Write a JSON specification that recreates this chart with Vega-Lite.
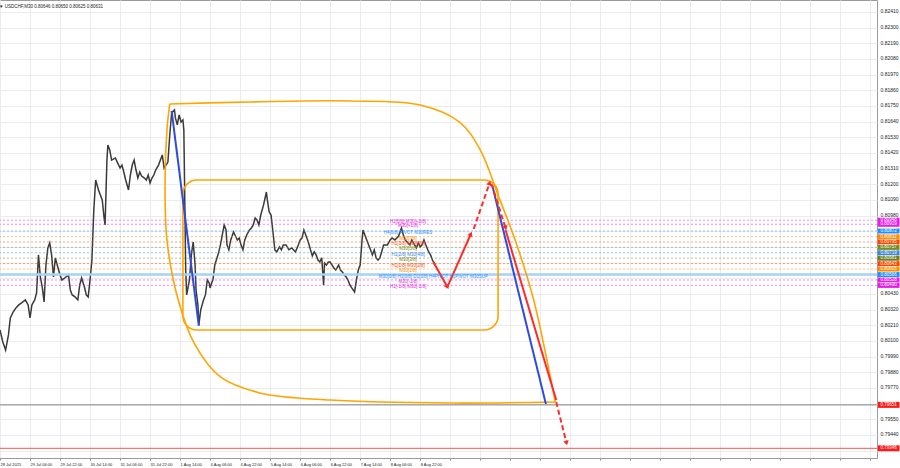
{
  "$schema": "https://vega.github.io/schema/vega-lite/v6.json",
  "width": 877,
  "height": 458,
  "autosize": {"type": "none"},
  "padding": {"left": 0, "top": 0, "right": 23, "bottom": 10},
  "background": "white",
  "config": {"view": {"stroke": "#9a9a9a", "strokeWidth": 1}, "font": "Liberation Sans", "axis": {"labelOverlap": false, "labelFlush": false, "labelBound": false}},
  "title": {"text": "▼ USDCHF,M30  0.80646 0.80650 0.80625 0.80631", "anchor": "start", "fontSize": 4.5, "fontWeight": "normal", "color": "#222222", "offset": -8, "dx": 2},
  "datasets": {
    "price": [
      {"b":0,"p":0.80177},{"b":3,"p":0.80093},{"b":6,"p":0.80036},{"b":9,"p":0.80142},{"b":11,"p":0.80261},{"b":14,"p":0.80303},{"b":17,"p":0.80332},{"b":20,"p":0.80353},{"b":23,"p":0.80367},{"b":27,"p":0.80388},{"b":30,"p":0.80353},{"b":32,"p":0.80261},{"b":34,"p":0.80353},{"b":37,"p":0.80388},{"b":39,"p":0.80437},{"b":41,"p":0.80704},{"b":43,"p":0.80549},{"b":45,"p":0.80479},{"b":47,"p":0.80374},{"b":49,"p":0.80633},{"b":51,"p":0.80753},{"b":53,"p":0.80788},{"b":55,"p":0.80704},{"b":57,"p":0.80549},{"b":59,"p":0.80683},{"b":61,"p":0.80633},{"b":64,"p":0.80563},{"b":66,"p":0.80528},{"b":69,"p":0.80542},{"b":73,"p":0.80563},{"b":75,"p":0.80458},{"b":77,"p":0.80423},{"b":80,"p":0.80409},{"b":83,"p":0.80388},{"b":85,"p":0.80493},{"b":87,"p":0.80542},{"b":90,"p":0.80479},{"b":92,"p":0.80423},{"b":94,"p":0.80409},{"b":96,"p":0.80528},{"b":98,"p":0.80668},{"b":100,"p":0.81019},{"b":102,"p":0.8123},{"b":105,"p":0.8116},{"b":107,"p":0.81125},{"b":109,"p":0.8109},{"b":111,"p":0.80963},{"b":112,"p":0.80914},{"b":114,"p":0.8137},{"b":115,"p":0.81476},{"b":117,"p":0.81441},{"b":119,"p":0.8137},{"b":123,"p":0.81385},{"b":125,"p":0.81356},{"b":128,"p":0.81314},{"b":130,"p":0.81335},{"b":132,"p":0.81286},{"b":134,"p":0.8123},{"b":137,"p":0.8116},{"b":139,"p":0.81265},{"b":141,"p":0.81335},{"b":143,"p":0.8137},{"b":145,"p":0.813},{"b":147,"p":0.81244},{"b":149,"p":0.81286},{"b":151,"p":0.81258},{"b":154,"p":0.81244},{"b":156,"p":0.8123},{"b":158,"p":0.81265},{"b":160,"p":0.81209},{"b":162,"p":0.81244},{"b":164,"p":0.81265},{"b":166,"p":0.813},{"b":169,"p":0.81335},{"b":171,"p":0.8137},{"b":173,"p":0.81406},{"b":175,"p":0.81314},{"b":177,"p":0.81335},{"b":179,"p":0.81356},{"b":181,"p":0.81546},{"b":183,"p":0.81701},{"b":186,"p":0.81722},{"b":187,"p":0.81666},{"b":189,"p":0.81617},{"b":191,"p":0.81687},{"b":193,"p":0.81638},{"b":195,"p":0.81652},{"b":196,"p":0.81581},{"b":197,"p":0.8109},{"b":198,"p":0.80598},{"b":199,"p":0.80423},{"b":202,"p":0.80528},{"b":204,"p":0.80704},{"b":206,"p":0.80795},{"b":208,"p":0.80633},{"b":209,"p":0.80458},{"b":211,"p":0.80353},{"b":212,"p":0.80212},{"b":214,"p":0.80318},{"b":217,"p":0.80388},{"b":219,"p":0.80423},{"b":221,"p":0.80528},{"b":223,"p":0.80507},{"b":224,"p":0.80472},{"b":226,"p":0.80514},{"b":227,"p":0.80528},{"b":229,"p":0.80633},{"b":233,"p":0.80718},{"b":235,"p":0.80774},{"b":237,"p":0.80844},{"b":239,"p":0.80914},{"b":241,"p":0.80879},{"b":242,"p":0.80774},{"b":244,"p":0.8074},{"b":246,"p":0.80809},{"b":249,"p":0.80865},{"b":251,"p":0.80837},{"b":253,"p":0.80809},{"b":255,"p":0.80823},{"b":257,"p":0.80774},{"b":259,"p":0.8074},{"b":261,"p":0.80809},{"b":263,"p":0.80844},{"b":266,"p":0.80879},{"b":268,"p":0.80893},{"b":270,"p":0.80914},{"b":272,"p":0.80963},{"b":274,"p":0.80949},{"b":276,"p":0.80914},{"b":278,"p":0.80984},{"b":281,"p":0.81055},{"b":284,"p":0.81146},{"b":285,"p":0.8109},{"b":287,"p":0.81005},{"b":289,"p":0.80984},{"b":291,"p":0.80865},{"b":293,"p":0.8074},{"b":295,"p":0.80725},{"b":298,"p":0.8076},{"b":300,"p":0.8074},{"b":302,"p":0.80774},{"b":305,"p":0.80774},{"b":308,"p":0.8074},{"b":311,"p":0.80753},{"b":315,"p":0.80725},{"b":318,"p":0.80774},{"b":320,"p":0.80809},{"b":322,"p":0.80823},{"b":324,"p":0.80879},{"b":326,"p":0.80844},{"b":329,"p":0.80788},{"b":331,"p":0.8074},{"b":333,"p":0.80697},{"b":335,"p":0.80725},{"b":337,"p":0.80704},{"b":339,"p":0.80668},{"b":341,"p":0.80654},{"b":343,"p":0.80683},{"b":345,"p":0.80493},{"b":346,"p":0.80647},{"b":348,"p":0.80633},{"b":350,"p":0.80654},{"b":352,"p":0.80654},{"b":354,"p":0.80633},{"b":356,"p":0.80612},{"b":358,"p":0.80598},{"b":361,"p":0.80633},{"b":363,"p":0.80598},{"b":365,"p":0.80584},{"b":367,"p":0.80563},{"b":369,"p":0.80549},{"b":371,"p":0.80528},{"b":373,"p":0.80493},{"b":375,"p":0.80472},{"b":378,"p":0.80444},{"b":380,"p":0.80528},{"b":382,"p":0.80598},{"b":384,"p":0.80633},{"b":386,"p":0.80809},{"b":387,"p":0.80879},{"b":389,"p":0.80844},{"b":393,"p":0.80774},{"b":395,"p":0.8074},{"b":397,"p":0.80704},{"b":399,"p":0.8074},{"b":401,"p":0.80683},{"b":403,"p":0.80668},{"b":405,"p":0.80683},{"b":409,"p":0.80774},{"b":413,"p":0.80774},{"b":416,"p":0.80809},{"b":418,"p":0.80823},{"b":421,"p":0.80809},{"b":425,"p":0.80837},{"b":428,"p":0.80893},{"b":430,"p":0.80844},{"b":432,"p":0.80809},{"b":435,"p":0.80788},{"b":437,"p":0.80774},{"b":439,"p":0.80809},{"b":442,"p":0.80774},{"b":444,"p":0.80753},{"b":446,"p":0.80788},{"b":448,"p":0.8076},{"b":450,"p":0.80774},{"b":452,"p":0.80809},{"b":454,"p":0.80774},{"b":457,"p":0.80725},{"b":459,"p":0.80704},{"b":461,"p":0.80668},{"b":464,"p":0.80633}
    ],
    "levels": [
      {"p":0.80948,"lvl":"+2/8","lab":"H1[5/8] M30[+2/8]","lb":435},
      {"p":0.80919,"lvl":"+1/8","lab":"M30[+1/8]","lb":435},
      {"p":0.80872,"lvl":"8/8","lab":"H4[6/8] PIVOT M30RES","lb":435},
      {"p":0.80832,"lvl":"7/8","lab":"M30[7/8]","lb":435},
      {"p":0.80795,"lvl":"6/8","lab":"H1[3/8] M30[6/8]","lb":435},
      {"p":0.80757,"lvl":"5/8","lab":"M30[5/8]","lb":435},
      {"p":0.80719,"lvl":"4/8","lab":"H1[2/8] M30[4/8]","lb":435},
      {"p":0.80681,"lvl":"3/8","lab":"M30[3/8]","lb":435},
      {"p":0.80643,"lvl":"2/8","lab":"H1[1/8] M30[2/8]","lb":435},
      {"p":0.80605,"lvl":"1/8","lab":"M30[1/8]","lb":435},
      {"p":0.80566,"lvl":"0/8","lab":"M30[0/8] H1[0/8] D1[3/8] H4PIVOT H1PIVOT M30SUP","lb":462},
      {"p":0.80528,"lvl":"-1/8","lab":"M30[-1/8]","lb":435},
      {"p":0.8049,"lvl":"-2/8","lab":"H1[-1/8] M30[-2/8]","lb":435}
    ],
    "shape": [
      {"part":"A","i":0,"b":181,"p":0.81764},{"part":"A","i":1,"b":267,"p":0.81778},{"part":"A","i":2,"b":373,"p":0.81785},{"part":"A","i":3,"b":448,"p":0.81757},{"part":"A","i":4,"b":490,"p":0.81637},{"part":"A","i":5,"b":512,"p":0.81441},{"part":"A","i":6,"b":531,"p":0.81125},{"part":"A","i":7,"b":551,"p":0.80774},{"part":"A","i":8,"b":569,"p":0.80388},{"part":"A","i":9,"b":582,"p":0.80001},{"part":"A","i":10,"b":592,"p":0.79671},
      {"part":"B","i":11,"b":592,"p":0.79671},{"part":"B","i":12,"b":480,"p":0.79664},{"part":"B","i":13,"b":352,"p":0.79685},{"part":"B","i":14,"b":277,"p":0.79735},{"part":"B","i":15,"b":235,"p":0.79847},{"part":"B","i":16,"b":208,"p":0.80072},{"part":"B","i":17,"b":190,"p":0.80388},{"part":"B","i":18,"b":178,"p":0.80809},{"part":"B","i":19,"b":176,"p":0.8123},{"part":"B","i":20,"b":178,"p":0.81581},{"part":"B","i":21,"b":181,"p":0.81764}
    ],
    "box": [{"b1":195,"b2":531,"p1":0.8123,"p2":0.80177}],
    "segs": [
      {"seg":"B1","kind":"blue","i":0,"b":183,"p":0.81715},{"seg":"B1","kind":"blue","i":1,"b":212,"p":0.80205},
      {"seg":"B2","kind":"blue","i":0,"b":525,"p":0.81188},{"seg":"B2","kind":"blue","i":1,"b":582,"p":0.79657},
      {"seg":"Ra","kind":"solid","i":0,"b":462,"p":0.80654},{"seg":"Ra","kind":"solid","i":1,"b":477,"p":0.80479},
      {"seg":"Rb","kind":"solid","i":0,"b":477,"p":0.80479},{"seg":"Rb","kind":"solid","i":1,"b":502,"p":0.80851},
      {"seg":"Rc","kind":"dashed","i":0,"b":505,"p":0.80886},{"seg":"Rc","kind":"dashed","i":1,"b":522,"p":0.81209},
      {"seg":"Rd","kind":"dashed","i":0,"b":524,"p":0.81202},{"seg":"Rd","kind":"dashed","i":1,"b":539,"p":0.80893},
      {"seg":"Re","kind":"solid","i":0,"b":539,"p":0.80879},{"seg":"Re","kind":"solid","i":1,"b":593,"p":0.79685},
      {"seg":"Rf","kind":"dashed","i":0,"b":593,"p":0.79671},{"seg":"Rf","kind":"dashed","i":1,"b":604,"p":0.79383}
    ],
    "heads": [
      {"b":477,"p":0.80479,"dir":151},{"b":502,"p":0.80851,"dir":24},{"b":522,"p":0.81209,"dir":19},{"b":539,"p":0.80893,"dir":162},{"b":604,"p":0.79383,"dir":166}
    ],
    "targets": [{"p":0.79651},{"p":0.79346}]
  },
  "layer": [
    {
      "data": {"name": "price"},
      "mark": {"type": "line", "color": "#3a3a3a", "strokeWidth": 1.5, "strokeJoin": "miter"},
      "encoding": {
        "x": {"field": "b", "type": "quantitative", "scale": {"domain": [0, 935], "nice": false, "zero": false},
          "axis": {"orient": "bottom", "tickCount": 100, "values": [0,32,64,96,128,160,192,224,256,288,320,352,384,416,448,480,512,544,576,608,640,672,704,736,768,800,832,864,896,928],
            "labelExpr": "datum.value <= 448 ? ['28 Jul 2025','29 Jul 06:00','29 Jul 22:00','30 Jul 14:00','31 Jul 06:00','31 Jul 22:00','1 Aug 14:00','4 Aug 06:00','4 Aug 22:00','5 Aug 14:00','6 Aug 06:00','6 Aug 22:00','7 Aug 14:00','8 Aug 06:00','8 Aug 22:00'][datum.value/32] : ''",
            "labelAlign": "left", "labelDx": 1, "labelFontSize": 4, "labelPadding": 2, "labelColor": "#222222", "labelOverlap": false, "labelFlush": false,
            "tickSize": 2, "tickColor": "#888888", "domain": false, "grid": true, "gridColor": "#ececec", "title": null}},
        "y": {"field": "p", "type": "quantitative", "scale": {"domain": [0.79278, 0.82494], "nice": false, "zero": false},
          "axis": {"orient": "right", "tickCount": 100, "values": [0.8241,0.823,0.8219,0.8208,0.8197,0.8186,0.8175,0.8164,0.8153,0.8142,0.8131,0.812,0.8109,0.8098,0.8087,0.8076,0.8065,0.8054,0.8043,0.8032,0.8021,0.801,0.7999,0.7988,0.7977,0.7966,0.7955,0.7944,0.7933],
            "labelExpr": "(datum.value > 0.8050 && datum.value < 0.8095) || (datum.value > 0.7963 && datum.value < 0.7968) || datum.value < 0.7934 ? '' : format(datum.value, '.5f')",
            "labelFontSize": 5, "labelPadding": 3, "labelOffset": -1.2, "labelColor": "#222222", "labelOverlap": false, "labelFlush": false, "labelBaseline": "middle",
            "ticks": false, "domain": false, "grid": true, "gridColor": "#ececec", "title": null}}
      }
    },
    {
      "data": {"name": "levels"},
      "mark": {"type": "rule", "strokeDash": [2, 2], "strokeWidth": 1, "opacity": 0.5},
      "encoding": {
        "y": {"field": "p", "type": "quantitative", "scale": {"domain": [0.79278, 0.82494], "nice": false, "zero": false}},
        "color": {"field": "lvl", "type": "nominal", "legend": null,
          "scale": {"domain": ["+2/8","+1/8","8/8","7/8","6/8","5/8","4/8","3/8","2/8","1/8","0/8","-1/8","-2/8"],
            "range": ["#e61ee6","#e61ee6","#1e90ff","#ff8c00","#ff4500","#7b8c1e","#3d85d8","#6b7f22","#ff4500","#ff8c00","#1e90ff","#e61ee6","#e61ee6"]}}
      }
    },
    {
      "data": {"values": [{}]},
      "mark": {"type": "rule", "color": "#a6d2f5", "strokeWidth": 2.5},
      "encoding": {"y": {"datum": 0.80566, "type": "quantitative", "scale": {"domain": [0.79278, 0.82494], "nice": false, "zero": false}}}
    },
    {
      "data": {"values": [{}]},
      "mark": {"type": "rule", "color": "#808080", "strokeWidth": 1},
      "encoding": {"y": {"datum": 0.79651, "type": "quantitative", "scale": {"domain": [0.79278, 0.82494], "nice": false, "zero": false}}}
    },
    {
      "data": {"values": [{}]},
      "mark": {"type": "rule", "color": "#ff5050", "strokeWidth": 1},
      "encoding": {"y": {"datum": 0.79346, "type": "quantitative", "scale": {"domain": [0.79278, 0.82494], "nice": false, "zero": false}}}
    },
    {
      "data": {"name": "shape"},
      "mark": {"type": "line", "color": "#ffa500", "strokeWidth": 1.6, "interpolate": "catmull-rom"},
      "encoding": {
        "x": {"field": "b", "type": "quantitative", "scale": {"domain": [0, 935], "nice": false, "zero": false}},
        "y": {"field": "p", "type": "quantitative", "scale": {"domain": [0.79278, 0.82494], "nice": false, "zero": false}},
        "detail": {"field": "part"},
        "order": {"field": "i", "type": "quantitative"}
      }
    },
    {
      "data": {"name": "box"},
      "mark": {"type": "rect", "fill": null, "fillOpacity": 0, "stroke": "#ffa500", "strokeWidth": 1.6, "cornerRadius": 14},
      "encoding": {
        "x": {"field": "b1", "type": "quantitative", "scale": {"domain": [0, 935], "nice": false, "zero": false}},
        "x2": {"field": "b2"},
        "y": {"field": "p1", "type": "quantitative", "scale": {"domain": [0.79278, 0.82494], "nice": false, "zero": false}},
        "y2": {"field": "p2"}
      }
    },
    {
      "data": {"name": "segs"},
      "transform": [{"filter": "datum.kind == 'blue'"}],
      "mark": {"type": "line", "color": "#2d4be0", "strokeWidth": 2},
      "encoding": {
        "x": {"field": "b", "type": "quantitative", "scale": {"domain": [0, 935], "nice": false, "zero": false}},
        "y": {"field": "p", "type": "quantitative", "scale": {"domain": [0.79278, 0.82494], "nice": false, "zero": false}},
        "detail": {"field": "seg"},
        "order": {"field": "i", "type": "quantitative"}
      }
    },
    {
      "data": {"name": "segs"},
      "transform": [{"filter": "datum.kind == 'solid'"}],
      "mark": {"type": "line", "color": "#ff2a2a", "strokeWidth": 2},
      "encoding": {
        "x": {"field": "b", "type": "quantitative", "scale": {"domain": [0, 935], "nice": false, "zero": false}},
        "y": {"field": "p", "type": "quantitative", "scale": {"domain": [0.79278, 0.82494], "nice": false, "zero": false}},
        "detail": {"field": "seg"},
        "order": {"field": "i", "type": "quantitative"}
      }
    },
    {
      "data": {"name": "segs"},
      "transform": [{"filter": "datum.kind == 'dashed'"}],
      "mark": {"type": "line", "color": "#ff2a2a", "strokeWidth": 2, "strokeDash": [5, 3]},
      "encoding": {
        "x": {"field": "b", "type": "quantitative", "scale": {"domain": [0, 935], "nice": false, "zero": false}},
        "y": {"field": "p", "type": "quantitative", "scale": {"domain": [0.79278, 0.82494], "nice": false, "zero": false}},
        "detail": {"field": "seg"},
        "order": {"field": "i", "type": "quantitative"}
      }
    },
    {
      "data": {"name": "heads"},
      "mark": {"type": "point", "shape": "triangle-up", "filled": true, "color": "#ff2a2a", "size": 30, "opacity": 1},
      "encoding": {
        "x": {"field": "b", "type": "quantitative", "scale": {"domain": [0, 935], "nice": false, "zero": false}},
        "y": {"field": "p", "type": "quantitative", "scale": {"domain": [0.79278, 0.82494], "nice": false, "zero": false}},
        "angle": {"field": "dir", "type": "quantitative", "scale": null}
      }
    },
    {
      "data": {"name": "levels"},
      "mark": {"type": "text", "fontSize": 4.5, "align": "center", "baseline": "middle", "dy": 2},
      "encoding": {
        "x": {"field": "lb", "type": "quantitative", "scale": {"domain": [0, 935], "nice": false, "zero": false}},
        "y": {"field": "p", "type": "quantitative", "scale": {"domain": [0.79278, 0.82494], "nice": false, "zero": false}},
        "text": {"field": "lab"},
        "color": {"field": "lvl", "type": "nominal", "legend": null}
      }
    },
    {
      "data": {"name": "levels"},
      "mark": {"type": "rect", "yOffset": -2.5, "y2Offset": 2.5},
      "encoding": {
        "x": {"datum": 936, "type": "quantitative", "scale": {"domain": [0, 935], "nice": false, "zero": false}},
        "x2": {"datum": 959},
        "y": {"field": "p", "type": "quantitative", "scale": {"domain": [0.79278, 0.82494], "nice": false, "zero": false}},
        "y2": {"field": "p"},
        "color": {"field": "lvl", "type": "nominal", "legend": null}
      }
    },
    {
      "data": {"name": "targets"},
      "mark": {"type": "rect", "yOffset": -3, "y2Offset": 3, "color": "#ff1a1a"},
      "encoding": {
        "x": {"datum": 936, "type": "quantitative", "scale": {"domain": [0, 935], "nice": false, "zero": false}},
        "x2": {"datum": 959},
        "y": {"field": "p", "type": "quantitative", "scale": {"domain": [0.79278, 0.82494], "nice": false, "zero": false}},
        "y2": {"field": "p"}
      }
    },
    {
      "data": {"name": "levels"},
      "mark": {"type": "text", "fontSize": 4.5, "align": "center", "baseline": "middle", "color": "white"},
      "encoding": {
        "x": {"datum": 947.5, "type": "quantitative", "scale": {"domain": [0, 935], "nice": false, "zero": false}},
        "y": {"field": "p", "type": "quantitative", "scale": {"domain": [0.79278, 0.82494], "nice": false, "zero": false}},
        "text": {"field": "p", "format": ".5f"}
      }
    },
    {
      "data": {"name": "targets"},
      "mark": {"type": "text", "fontSize": 4.5, "align": "center", "baseline": "middle", "color": "white"},
      "encoding": {
        "x": {"datum": 947.5, "type": "quantitative", "scale": {"domain": [0, 935], "nice": false, "zero": false}},
        "y": {"field": "p", "type": "quantitative", "scale": {"domain": [0.79278, 0.82494], "nice": false, "zero": false}},
        "text": {"field": "p", "format": ".5f"}
      }
    }
  ]
}
